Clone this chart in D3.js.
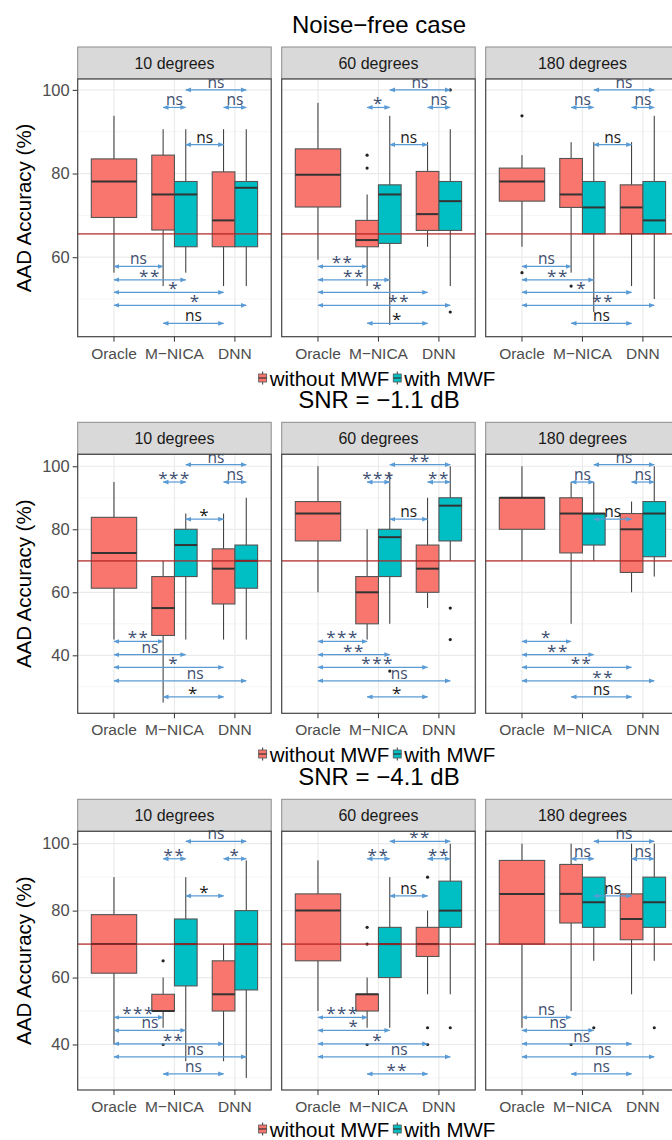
<!DOCTYPE html>
<html>
<head>
<meta charset="utf-8">
<script src="https://cdn.jsdelivr.net/npm/d3@7"></script>
<style>
  body { margin: 0; background: #fff; }
  text { font-family: "Liberation Sans", Arial, sans-serif; }
  .sig { font-family: "Open Sans", "Noto Sans", sans-serif; }
</style>
</head>
<body>
<svg id="chart" width="672" height="1140"></svg>
<script>
var caseTitles = ["Noise\u2212free case", "SNR = \u22121.1 dB", "SNR = \u22124.1 dB"];
var angles = ["10 degrees", "60 degrees", "180 degrees"];
var methods = ["Oracle", "M\u2212NICA", "DNN"];
var conditions = ["without MWF", "with MWF"];
var chanceLevels = [65.6, 70, 70];
var yRanges = [[41, 102.6], [21.6, 103.8], [26.4, 103.7]];
var yTicks = [[60, 80, 100], [40, 60, 80, 100], [40, 60, 80, 100]];

// angle, method, condition (0 = without, 1 = with MWF), low whisker, q1, median, q3, high whisker
var boxesNoiseFree = [
  [0, 0, 0, 56.3, 69.5, 78.1, 83.5, 93.8],
  [0, 1, 0, 53.1, 66.5, 75.0, 84.4, 90.6],
  [0, 1, 1, 56.3, 62.5, 75.0, 78.1, 90.6],
  [0, 2, 0, 53.1, 62.5, 68.8, 80.4, 90.6],
  [0, 2, 1, 53.1, 62.5, 76.6, 78.1, 90.6],
  [1, 0, 0, 59.4, 72.0, 79.7, 85.9, 96.9],
  [1, 1, 0, 53.1, 62.5, 64.1, 68.8, 75.0],
  [1, 1, 1, 43.8, 63.3, 75.0, 77.3, 93.8],
  [1, 2, 0, 62.5, 66.4, 70.3, 80.5, 87.5],
  [1, 2, 1, 53.1, 66.4, 73.4, 78.1, 90.6],
  [2, 0, 0, 62.5, 73.4, 78.1, 81.3, 84.4],
  [2, 1, 0, 56.3, 71.9, 75.0, 83.6, 87.5],
  [2, 1, 1, 46.9, 65.6, 71.9, 78.1, 87.5],
  [2, 2, 0, 53.1, 65.6, 71.9, 77.3, 87.5],
  [2, 2, 1, 50.0, 65.6, 68.8, 78.1, 93.8]
];
var boxesSnr11 = [
  [0, 0, 0, 45, 61.3, 72.5, 83.8, 95],
  [0, 1, 0, 25, 46.3, 55, 65, 70],
  [0, 1, 1, 45, 65, 75, 80, 85],
  [0, 2, 0, 45, 56.3, 67.5, 73.8, 85],
  [0, 2, 1, 45, 61.3, 70, 75, 90],
  [1, 0, 0, 60, 76.3, 85, 88.8, 100],
  [1, 1, 0, 45, 50, 60, 65, 80],
  [1, 1, 1, 50, 65, 77.5, 80, 98],
  [1, 2, 0, 55, 60, 67.5, 75, 90],
  [1, 2, 1, 70, 76.3, 87.5, 90, 100],
  [2, 0, 0, 70, 80, 90, 90, 100],
  [2, 1, 0, 50, 72.5, 85, 90, 95],
  [2, 1, 1, 70, 75, 85, 85, 95],
  [2, 2, 0, 60, 66.3, 80, 85, 88.8],
  [2, 2, 1, 65, 71.3, 85, 88.8, 100]
];
var boxesSnr41 = [
  [0, 0, 0, 40, 61.3, 70, 78.8, 90],
  [0, 1, 0, 45, 50, 50, 55, 60],
  [0, 1, 1, 35, 57.5, 70, 77.5, 90],
  [0, 2, 0, 35, 50, 55, 65, 70],
  [0, 2, 1, 30, 56.3, 70, 80, 95],
  [1, 0, 0, 50, 65, 80, 85, 95],
  [1, 1, 0, 45, 50, 55, 55, 60],
  [1, 1, 1, 45, 60, 70, 75, 90],
  [1, 2, 0, 55, 66.3, 70, 75, 80],
  [1, 2, 1, 55, 75, 80, 88.8, 100],
  [2, 0, 0, 45, 70, 85, 95, 100],
  [2, 1, 0, 50, 76.3, 85, 93.8, 100],
  [2, 1, 1, 65, 75, 82.5, 90, 90],
  [2, 2, 0, 55, 71.3, 77.5, 85, 100],
  [2, 2, 1, 65, 75, 82.5, 90, 100]
];
// angle, method, condition, value
var outliersNoiseFree = [
  [1, 1, 0, 84.4], [1, 1, 0, 81.3], [1, 2, 1, 100], [1, 2, 1, 46.9],
  [2, 0, 0, 93.8], [2, 0, 0, 56.3], [2, 1, 0, 53.1]
];
var outliersSnr11 = [
  [1, 1, 1, 35], [1, 2, 1, 55], [1, 2, 1, 45]
];
var outliersSnr41 = [
  [0, 1, 0, 65], [0, 1, 0, 40],
  [1, 1, 0, 75], [1, 1, 0, 70], [1, 1, 0, 40], [1, 2, 0, 90], [1, 2, 0, 45], [1, 2, 0, 40], [1, 2, 1, 45],
  [2, 1, 0, 40], [2, 1, 1, 45], [2, 2, 1, 45]
];

// comparisons: [method, condition] -> [method, condition]
var comparisons = [
  [[1, 1], [2, 1]],
  [[1, 0], [1, 1]],
  [[2, 0], [2, 1]],
  [[1, 1], [2, 0]],
  [[0, 0], [1, 0]],
  [[0, 0], [1, 1]],
  [[0, 0], [2, 0]],
  [[0, 0], [2, 1]],
  [[1, 0], [2, 0]]
];
var bracketLevels = [
  [100, 95.8, 95.8, 86.9, 57.8, 54.6, 51.6, 48.5, 44.2],
  [100.5, 95, 95, 83.2, 44.4, 40.2, 36.2, 31.9, 26.8],
  [100.7, 95.5, 95.5, 84.4, 48.1, 44.2, 40.2, 36.3, 31.2]
];
var sigNoiseFree = [
  ["ns", "ns", "ns", "ns", "ns", "**", "*", "*", "ns"],
  ["ns", "*", "ns", "ns", "**", "**", "*", "**", "*"],
  ["ns", "ns", "ns", "ns", "ns", "**", "*", "**", "ns"]
];
var sigSnr11 = [
  ["ns", "***", "ns", "*", "**", "ns", "*", "ns", "*"],
  ["**", "***", "**", "ns", "***", "**", "***", "ns", "*"],
  ["ns", "ns", "ns", "ns", "*", "**", "**", "**", "ns"]
];
var sigSnr41 = [
  ["ns", "**", "*", "*", "***", "ns", "**", "ns", "ns"],
  ["**", "**", "**", "ns", "***", "*", "*", "ns", "**"],
  ["ns", "ns", "ns", "ns", "ns", "ns", "ns", "ns", "ns"]
];

var allBoxes = [boxesNoiseFree, boxesSnr11, boxesSnr41];
var allOutliers = [outliersNoiseFree, outliersSnr11, outliersSnr41];
var allSig = [sigNoiseFree, sigSnr11, sigSnr41];

// layout
var PANEL_X = [77.7, 281.7, 485.7], PANEL_W = 193.5;
var STRIP_TOP = [47, 422.3, 799.3], STRIP_H = 32;
var PLOT_BOTTOM = [336.7, 713.3, 1090];
var LEGEND_BASE = [386, 762, 1137];
var CENTER_X = 379;
var labelShift = [0, 0, 0, 0, 0, 0, 0.08, 0.25, 0];

var fill = d3.scaleOrdinal().domain([0, 1]).range(["#F8766D", "#00BFC4"]);
var xBand = d3.scaleBand().domain(d3.range(methods.length)).range([0, PANEL_W])
  .paddingInner(0).paddingOuter(0.1);
var bw = xBand.bandwidth();
var dodge = d3.scaleBand().domain([0, 1]).range([-0.375 * bw, 0.375 * bw]);

function xPos(m, c) {
  var cx = xBand(m) + bw / 2;
  if (m === 0) return cx;   // Oracle only has one box
  return cx + dodge(c) + dodge.bandwidth() / 2;
}
function boxW(m) { return m === 0 ? 0.75 * bw : dodge.bandwidth(); }

var svg = d3.select("#chart");
var defs = svg.append("defs");
defs.append("marker").attr("id", "arr")
  .attr("viewBox", "0 0 10 10").attr("refX", 9).attr("refY", 5)
  .attr("markerUnits", "userSpaceOnUse")
  .attr("markerWidth", 6).attr("markerHeight", 6)
  .attr("orient", "auto-start-reverse")
  .append("path").attr("d", "M0,1 L10,5 L0,9 z").attr("fill", "#5b9bd5");

for (var r = 0; r < 3; r++) {
  var plotTop = STRIP_TOP[r] + STRIP_H;
  var y = d3.scaleLinear().domain(yRanges[r]).range([PLOT_BOTTOM[r], plotTop]);
  var plotH = PLOT_BOTTOM[r] - plotTop;

  svg.append("text")
    .attr("x", CENTER_X).attr("y", STRIP_TOP[r] - 14)
    .attr("text-anchor", "middle").style("font-size", "24px").attr("fill", "#000")
    .text(caseTitles[r]);

  // y axis title
  svg.append("text")
    .attr("transform", "translate(31," + (plotTop + plotH / 2) + ") rotate(-90)")
    .attr("text-anchor", "middle").style("font-size", "20.5px").attr("fill", "#000")
    .text("AAD Accuracy (%)");

  // y axis ticks + labels (first panel only)
  var yAxis = svg.append("g").attr("transform", "translate(" + PANEL_X[0] + ",0)")
    .call(d3.axisLeft(y).tickValues(yTicks[r]).tickSize(5).tickPadding(3));
  yAxis.select(".domain").remove();
  yAxis.selectAll(".tick line").attr("stroke", "#333");
  yAxis.selectAll(".tick text").attr("fill", "#4d4d4d")
    .style("font-size", "16.5px").style("font-family", "'Liberation Sans', Arial, sans-serif");

  var minorTicks = d3.range(30, 101, 20).filter(function(v) { return v > yRanges[r][0] && v < yRanges[r][1]; });
  var majorTicks = d3.range(20, 101, 20).filter(function(v) { return v > yRanges[r][0] && v < yRanges[r][1]; });

  for (var a = 0; a < 3; a++) {
    var g = svg.append("g").attr("transform", "translate(" + PANEL_X[a] + ",0)");

    // strip
    g.append("rect").attr("x", 0).attr("y", STRIP_TOP[r]).attr("width", PANEL_W).attr("height", STRIP_H)
      .attr("fill", "#d9d9d9").attr("stroke", "#8c8c8c").attr("stroke-width", 1);
    g.append("text").attr("x", PANEL_W / 2).attr("y", STRIP_TOP[r] + STRIP_H / 2 + 5.5)
      .attr("text-anchor", "middle").style("font-size", "16px").attr("fill", "#1a1a1a")
      .text(angles[a]);

    // panel background + grid
    g.append("rect").attr("x", 0).attr("y", plotTop).attr("width", PANEL_W).attr("height", plotH)
      .attr("fill", "#fff");
    g.selectAll("line.minor").data(minorTicks).enter().append("line")
      .attr("x1", 0).attr("x2", PANEL_W)
      .attr("y1", function(d) { return y(d); }).attr("y2", function(d) { return y(d); })
      .attr("stroke", "#f2f2f2").attr("stroke-width", 0.8);
    g.selectAll("line.major").data(majorTicks).enter().append("line")
      .attr("x1", 0).attr("x2", PANEL_W)
      .attr("y1", function(d) { return y(d); }).attr("y2", function(d) { return y(d); })
      .attr("stroke", "#ebebeb").attr("stroke-width", 1.2);
    g.selectAll("line.vgrid").data(d3.range(methods.length)).enter().append("line")
      .attr("x1", function(d) { return xBand(d) + bw / 2; })
      .attr("x2", function(d) { return xBand(d) + bw / 2; })
      .attr("y1", plotTop).attr("y2", PLOT_BOTTOM[r])
      .attr("stroke", "#ebebeb").attr("stroke-width", 1.2);

    // boxes
    var boxes = allBoxes[r].filter(function(d) { return d[0] === a; });
    var bg = g.selectAll("g.box").data(boxes).enter().append("g");
    bg.append("line")
      .attr("x1", function(d) { return xPos(d[1], d[2]); })
      .attr("x2", function(d) { return xPos(d[1], d[2]); })
      .attr("y1", function(d) { return y(d[3]); })
      .attr("y2", function(d) { return y(d[7]); })
      .attr("stroke", "#333").attr("stroke-width", 1);
    bg.append("rect")
      .attr("x", function(d) { return xPos(d[1], d[2]) - boxW(d[1]) / 2; })
      .attr("width", function(d) { return boxW(d[1]); })
      .attr("y", function(d) { return y(d[6]); })
      .attr("height", function(d) { return Math.max(1, y(d[4]) - y(d[6])); })
      .attr("fill", function(d) { return fill(d[2]); })
      .attr("stroke", "#555").attr("stroke-width", 1.1);
    bg.append("line")
      .attr("x1", function(d) { return xPos(d[1], d[2]) - boxW(d[1]) / 2; })
      .attr("x2", function(d) { return xPos(d[1], d[2]) + boxW(d[1]) / 2; })
      .attr("y1", function(d) { return y(d[5]); })
      .attr("y2", function(d) { return y(d[5]); })
      .attr("stroke", "#333").attr("stroke-width", 2);

    var outs = allOutliers[r].filter(function(d) { return d[0] === a; });
    g.selectAll("circle.out").data(outs).enter().append("circle")
      .attr("cx", function(d) { return xPos(d[1], d[2]); })
      .attr("cy", function(d) { return y(d[3]); })
      .attr("r", 1.6).attr("fill", "#222");

    // chance level
    g.append("line").attr("x1", 0).attr("x2", PANEL_W)
      .attr("y1", y(chanceLevels[r])).attr("y2", y(chanceLevels[r]))
      .attr("stroke", "#b22222").attr("stroke-opacity", 0.7).attr("stroke-width", 1.7);

    // significance brackets
    var sig = allSig[r][a];
    comparisons.forEach(function(cmp, i) {
      var x1 = xPos(cmp[0][0], cmp[0][1]), x2 = xPos(cmp[1][0], cmp[1][1]);
      var yy = y(bracketLevels[r][i]);
      g.append("line").attr("x1", x1).attr("x2", x2).attr("y1", yy).attr("y2", yy)
        .attr("stroke", "#5b9bd5").attr("stroke-width", 1.2)
        .attr("marker-start", "url(#arr)").attr("marker-end", "url(#arr)");
      var lab = sig[i];
      var isStar = lab !== "ns";
      var dark = i === 3 || (i === 8 && r < 2);
      g.append("text").attr("class", "sig")
        .attr("x", (x1 + x2) / 2 + labelShift[i] * bw)
        .attr("y", isStar ? yy + 2 : yy - 2)
        .attr("text-anchor", "middle")
        .style("font-size", isStar ? "17px" : "15.5px")
        .style("letter-spacing", isStar ? "1.5px" : "0px")
        .attr("fill", dark ? "#1a1a1a" : "#3e4e70")
        .text(lab);
    });

    // panel border
    g.append("rect").attr("x", 0).attr("y", plotTop).attr("width", PANEL_W).attr("height", plotH)
      .attr("fill", "none").attr("stroke", "#444").attr("stroke-width", 1.2);

    // x axis
    var xAxis = g.append("g").attr("transform", "translate(0," + PLOT_BOTTOM[r] + ")")
      .call(d3.axisBottom(xBand).tickFormat(function(d) { return methods[d]; }).tickSize(5).tickPadding(6));
    xAxis.select(".domain").remove();
    xAxis.selectAll(".tick line").attr("stroke", "#333");
    xAxis.selectAll(".tick text").attr("fill", "#4d4d4d")
      .style("font-size", "15.5px").style("font-family", "'Liberation Sans', Arial, sans-serif");
  }

  // legend
  var lg = svg.append("g");
  var cursor = 0;
  conditions.forEach(function(name, c) {
    var key = lg.append("g").attr("transform", "translate(" + cursor + "," + (LEGEND_BASE[r] - 8) + ")");
    key.append("line").attr("x1", 4).attr("x2", 4).attr("y1", -6.5).attr("y2", 6.5)
      .attr("stroke", "#333").attr("stroke-width", 1);
    key.append("rect").attr("x", 0).attr("y", -4).attr("width", 8).attr("height", 8)
      .attr("fill", fill(c)).attr("stroke", "#555").attr("stroke-width", 0.8);
    key.append("line").attr("x1", 0).attr("x2", 8).attr("y1", 0).attr("y2", 0)
      .attr("stroke", "#333").attr("stroke-width", 1.2);
    var t = lg.append("text").attr("x", cursor + 11).attr("y", LEGEND_BASE[r])
      .style("font-size", "20.5px").attr("fill", "#000").text(name);
    cursor += 11 + t.node().getComputedTextLength() + 4;
  });
  lg.attr("transform", "translate(" + (CENTER_X - cursor / 2) + ",0)");
}
</script>
</body>
</html>
